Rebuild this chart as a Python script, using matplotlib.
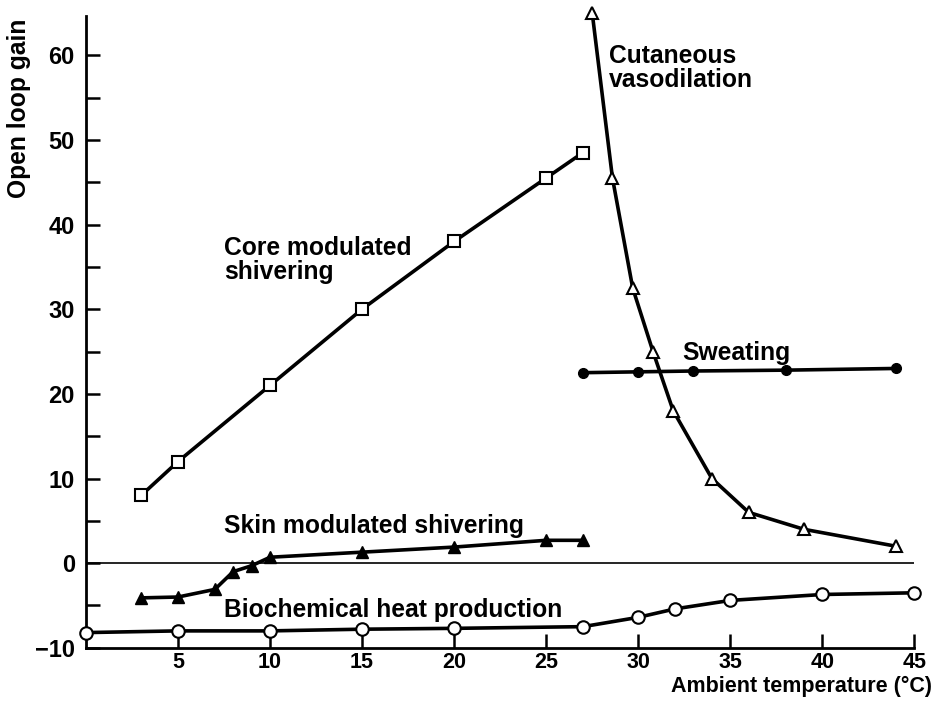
import matplotlib
matplotlib.use("Agg")
import matplotlib.pyplot as plt

plt.rcParams['font.family'] = ['Liberation Sans', 'DejaVu Sans']

# Data
core_x = [3, 5, 10, 15, 20, 25, 27]
core_y = [8, 12, 21, 30, 38, 45.5, 48.5]

vaso_x = [27.5, 28.6, 29.7, 30.8, 31.9, 34, 36, 39, 44]
vaso_y = [65, 45.5, 32.5, 25, 18, 10, 6, 4, 2]

sweat_x = [27, 30, 33, 38, 44]
sweat_y = [22.5, 22.6, 22.7, 22.8, 23]

skin_x = [3, 5, 7, 8, 9, 10, 15, 20, 25, 27]
skin_y = [-4.1, -4.0, -3.1, -1.0, -0.3, 0.7, 1.3, 1.9, 2.7, 2.7]

bio_x = [0, 5, 10, 15, 20, 27, 30, 32, 35, 40, 45]
bio_y = [-8.2, -8, -8, -7.8, -7.7, -7.5, -6.4, -5.4, -4.4, -3.7, -3.5]

x_ticks = [5, 10, 15, 20, 25, 30, 35, 40, 45]
y_ticks = [-10, 0, 10, 20, 30, 40, 50, 60]
y_minor = [-5, 5, 15, 25, 35, 45, 55]

fig = plt.figure(figsize=(9.34, 7.08), dpi=100)
ax = fig.add_axes([0.092, 0.085, 0.887, 0.892])

ax.set_xlim(0, 45)
ax.set_ylim(-10, 64.6)

lw = 2.6
ax.axhline(0, color='black', lw=1.2, zorder=1)

ax.plot(core_x, core_y, color='black', lw=lw, marker='s', ms=8,
        mfc='white', mec='black', mew=1.5, clip_on=False, zorder=3)
ax.plot(vaso_x, vaso_y, color='black', lw=lw, marker='^', ms=8,
        mfc='white', mec='black', mew=1.5, clip_on=False, zorder=3)
ax.plot(sweat_x, sweat_y, color='black', lw=lw, marker='o', ms=7,
        mfc='black', mec='black', clip_on=False, zorder=3)
ax.plot(skin_x, skin_y, color='black', lw=lw, marker='^', ms=8,
        mfc='black', mec='black', clip_on=False, zorder=3)
ax.plot(bio_x, bio_y, color='black', lw=lw, marker='o', ms=9,
        mfc='white', mec='black', mew=1.5, clip_on=False, zorder=3)

for s in ['top', 'right']:
    ax.spines[s].set_visible(False)
for s in ['left', 'bottom']:
    ax.spines[s].set_linewidth(2)

ax.set_xticks(x_ticks)
ax.set_xticklabels([str(t) for t in x_ticks])
ax.set_yticks(y_ticks)
ax.set_yticklabels(['\u221210' if t < 0 else str(t) for t in y_ticks])
ax.set_yticks(y_minor, minor=True)
ax.tick_params(axis='both', which='major', direction='in', length=10, width=1.8)
ax.tick_params(axis='x', which='major', labelsize=15.5, pad=3)
ax.tick_params(axis='y', which='major', labelsize=17, pad=8)
ax.tick_params(axis='y', which='minor', direction='in', length=10, width=1.8)
for lab in ax.get_xticklabels() + ax.get_yticklabels():
    lab.set_fontweight('bold')

tkw = dict(fontsize=17.7, color='black', fontweight='bold')
ax.text(7.5, 38.7, 'Core modulated\nshivering', va='top', ha='left', linespacing=1.0, **tkw)
ax.text(28.4, 61.3, 'Cutaneous\nvasodilation', va='top', ha='left', linespacing=1.0, **tkw)
ax.text(32.4, 26.2, 'Sweating', va='top', ha='left', **tkw)
ax.text(7.5, 5.8, 'Skin modulated shivering', va='top', ha='left', **tkw)
ax.text(7.5, -4.1, 'Biochemical heat production', va='top', ha='left', **tkw)

fig.text(0.998, 0.0226, 'Ambient temperature (\u00b0C)', ha='right', va='baseline',
         fontsize=15.5, color='black', fontweight='bold')
fig.text(0.02, 0.847, 'Open loop gain', rotation=90, ha='center', va='center', **tkw)

fig.savefig('out.png', dpi=100)
